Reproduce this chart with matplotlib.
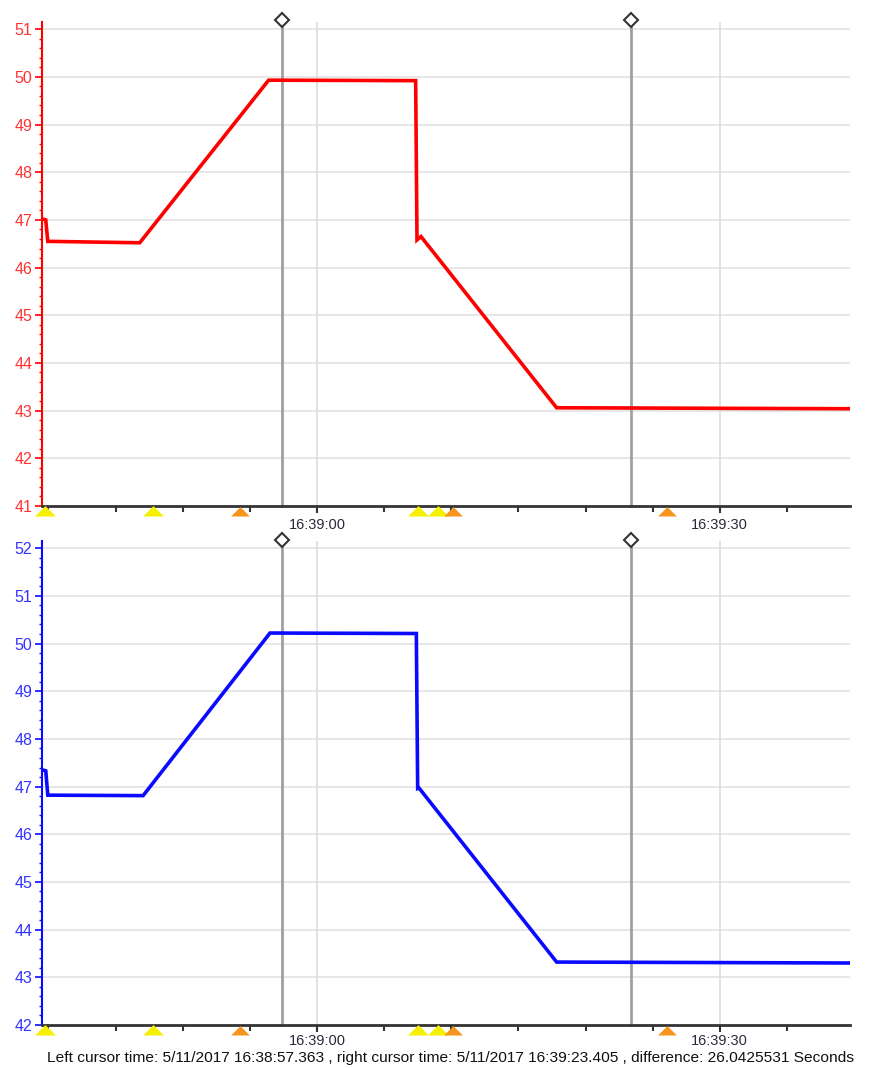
import matplotlib
matplotlib.use("Agg")
import matplotlib.pyplot as plt
from matplotlib.transforms import blended_transform_factory

# ---- data (time in seconds relative to 16:39:00) ----
red_t = [-20.45, -20.2, -20.05, -13.2, -3.6, 7.35, 7.45, 7.75, 17.85, 39.7]
red_v = [47.02, 47.0, 46.55, 46.52, 49.93, 49.92, 46.58, 46.65, 43.06, 43.04]

blue_t = [-20.45, -20.2, -20.05, -12.95, -3.5, 7.4, 7.5, 7.6, 17.85, 39.7]
blue_v = [47.35, 47.33, 46.82, 46.81, 50.22, 50.21, 46.96, 46.97, 43.32, 43.30]

cursor_times = [-2.637, 23.405]
yellow_marks = [-20.25, -12.2, 7.5, 9.0]
orange_marks = [-5.7, 10.1, 26.1]
major_ticks = [0, 30]
major_labels = ["16:39:00", "16:39:30"]
caption = ("Left cursor time: 5/11/2017 16:38:57.363 , right cursor time: "
           "5/11/2017 16:39:23.405 , difference: 26.0425531 Seconds")

XMIN, XMAX = -20.48, 39.7

fig = plt.figure(figsize=(8.69, 10.68), dpi=100)
W, H = 869, 1068


def make_ax(top_px, bottom_px, ylo, yhi, color, lcolor, t, v, diamond_y, xpad):
    left, right = 42, 850
    ax = fig.add_axes([left / W, 1 - bottom_px / H, (right - left) / W,
                       (bottom_px - top_px) / H])
    ax.set_xlim(XMIN, XMAX)
    ax.set_ylim(ylo, yhi)
    for s in ["top", "right"]:
        ax.spines[s].set_visible(False)
    ax.spines["left"].set_color(color)
    ax.spines["left"].set_linewidth(1.5)
    ax.spines["bottom"].set_color("#333333")
    ax.spines["bottom"].set_linewidth(2)
    # grid
    yt = list(range(int(ylo), int(yhi) + 1))
    ax.set_yticks(yt)
    ax.set_yticklabels([str(y) for y in yt], color=lcolor, fontsize=11.5,
                       family="Liberation Sans")
    ax.set_yticks([ylo + 0.2 * i for i in range(int((yhi - ylo) / 0.2) + 1)],
                  minor=True)
    ax.tick_params(axis="y", which="major", colors=color, length=5, width=1.2,
                   pad=2, labelcolor=lcolor)
    ax.tick_params(axis="y", which="minor", colors=color, length=2, width=1)
    for y in yt:
        if y != ylo:
            ax.axhline(y, color="#e3e3e3", lw=1.2, zorder=0)
    for x in major_ticks:
        ax.axvline(x, color="#dddddd", lw=1.2, zorder=0)
    ax.set_xticks(major_ticks)
    ax.set_xticklabels(major_labels, fontsize=10.5, color="#2a2a3a",
                       family="Liberation Sans")
    ax.set_xticks([XMIN + 0.48 + 5 * k for k in range(-1, 13)
                   if XMIN <= -20 + 5 * k <= XMAX], minor=True)
    ax.tick_params(axis="x", which="major", length=5, width=1.5,
                   color="#333333", pad=xpad)
    ax.tick_params(axis="x", which="minor", length=4, width=1.5,
                   color="#333333")
    # cursors
    for ct in cursor_times:
        ax.plot([ct, ct], [ylo, diamond_y], color="#a0a0a0", lw=2,
                zorder=1, clip_on=False)
        ax.plot([ct], [diamond_y], marker="D", ms=7, mfc="white",
                mec="#333333", mew=1.5, clip_on=False, zorder=5)
    # data
    ax.plot(t, v, color=color, lw=2.6, zorder=3, solid_joinstyle="miter")
    # event triangles
    trans = blended_transform_factory(ax.transData, ax.transAxes)
    hpx = bottom_px - top_px
    tri = [(-1, 0), (1, 0), (0, 1.0)]
    for xm in yellow_marks:
        ax.plot([xm], [-10 / hpx], marker=tri, ms=15, color="#f5f000",
                mec="none", transform=trans, clip_on=False, zorder=4)
    for xm in orange_marks:
        ax.plot([xm], [-10 / hpx], marker=tri, ms=13.5, color="#f7941d",
                mec="none", transform=trans, clip_on=False, zorder=4)
    return ax


ax1 = make_ax(22, 506, 41, 51.15, "#ff0000", "#ff3333", red_t, red_v, 51.19, 4)
ax2 = make_ax(541, 1025, 42, 52.15, "#0a0aff", "#3333ff", blue_t, blue_v,
              52.17, 1.5)

fig.text(47 / W, 1 - 1058 / H, caption, fontsize=11.15, color="#111111",
         family="Liberation Sans", ha="left", va="center")

fig.savefig("out.png", dpi=100)
